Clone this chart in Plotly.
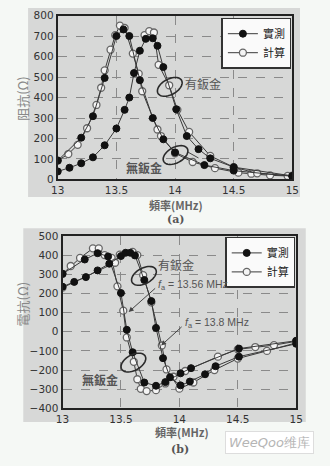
import numpy as np
import plotly.graph_objects as go

W, H = 330, 466

# ---------------- data (a) impedance ----------------
xa_no_meas = [13.0, 13.2, 13.3, 13.4, 13.5, 13.56, 13.61, 13.7, 13.81, 13.9, 14.0, 14.25, 14.5, 15.0]
ya_no_meas = [92, 204, 309, 496, 701, 733, 701, 485, 300, 196, 132, 70, 43, 15]
xa_no_calc = [13.0, 13.09, 13.17, 13.25, 13.33, 13.37, 13.4, 13.45, 13.49, 13.53, 13.57, 13.64, 13.69,
              13.72, 13.85, 13.88, 14.0, 14.15, 14.34, 14.54, 14.65, 14.81, 14.96]
ya_no_calc = [92, 124, 169, 250, 364, 448, 533, 634, 705, 752, 740, 615, 517,
              431, 244, 212, 128, 85, 55, 33, 28, 20, 17]
xa_yes_meas = [13.0, 13.1, 13.2, 13.3, 13.4, 13.5, 13.57, 13.61, 13.65, 13.7, 13.75, 13.81, 13.85, 13.9,
               14.01, 14.1, 14.2, 14.3, 14.5, 15.0]
ya_yes_meas = [39, 57, 79, 108, 167, 249, 340, 400, 520, 629, 687, 690, 653, 549,
               343, 212, 148, 103, 60, 17]
xa_yes_calc = [13.74, 13.78, 13.82, 13.86, 13.95, 14.02, 14.12, 14.3, 14.5, 14.7, 15.0]
ya_yes_calc = [705, 725, 718, 560, 460, 340, 232, 115, 60, 30, 18]

# ---------------- data (b) reactance ----------------
xb_no_meas = [13.0, 13.19, 13.3, 13.39, 13.5, 13.55, 13.6, 13.7, 13.8, 13.88, 14.01, 14.1, 14.51, 15.0]
yb_no_meas = [302, 377, 410, 393, 202, 10, -107, -265, -282, -263, -217, -190, -88, -47]
xb_no_calc = [13.0, 13.07, 13.15, 13.26, 13.31, 13.36, 13.42, 13.47, 13.52, 13.55, 13.61, 13.64, 13.67,
              13.72, 13.8, 13.88, 13.95, 14.05, 14.33, 14.5, 14.65, 14.81, 15.0]
yb_no_calc = [302, 343, 385, 435, 435, 400, 385, 237, 110, -30, -157, -248, -298,
              -310, -305, -270, -235, -205, -130, -92, -80, -70, -50]
xb_yes_meas = [13.0, 13.1, 13.2, 13.3, 13.4, 13.5, 13.54, 13.58, 13.62, 13.7, 13.76, 13.8, 13.86, 13.92,
               14.01, 14.09, 14.22, 14.31, 14.51, 15.0]
yb_yes_meas = [235, 260, 285, 320, 355, 395, 412, 412, 398, 270, 160, 20, -138, -238,
               -280, -260, -222, -180, -130, -63]
xb_yes_calc = [13.0, 13.45, 13.49, 13.6, 13.64, 13.69, 13.76, 13.85, 13.89, 14.0, 14.12, 14.3, 14.5, 14.75, 15.0]
yb_yes_calc = [230, 360, 402, 417, 400, 295, 153, -72, -197, -297, -265, -200, -140, -100, -58]

legend_meas = "實測"
legend_calc = "計算"

# ---------------- helpers ----------------
def pxx(p):
    return p / W

def pxy(p):
    return 1 - p / H

LINE = "#3a3a3a"
CJK = "Noto Sans CJK TC"

fig = go.Figure()

def add_series(x, y, xa, ya, filled, name, legend, show):
    if filled:
        marker = dict(symbol="circle", size=7, color="#111111", line=dict(color="#111111", width=1))
    else:
        marker = dict(symbol="circle", size=7, color="#f4f4f4", line=dict(color="#666666", width=1.3))
    fig.add_trace(go.Scatter(
        x=x, y=y, xaxis=xa, yaxis=ya, mode="lines+markers", name=name,
        line=dict(color=LINE, width=1), marker=marker,
        showlegend=show, legend=legend))

# (a)
add_series(xa_no_calc, ya_no_calc, "x", "y", False, legend_calc, "legend", False)
add_series(xa_yes_calc, ya_yes_calc, "x", "y", False, legend_calc, "legend", False)
add_series(xa_no_meas, ya_no_meas, "x", "y", True, legend_meas, "legend", True)
add_series(xa_yes_meas, ya_yes_meas, "x", "y", True, legend_meas, "legend", False)
add_series([None], [None], "x", "y", False, legend_calc, "legend", True)
# (b)
add_series(xb_no_calc, yb_no_calc, "x2", "y2", False, legend_calc, "legend2", False)
add_series(xb_yes_calc, yb_yes_calc, "x2", "y2", False, legend_calc, "legend2", False)
add_series(xb_no_meas, yb_no_meas, "x2", "y2", True, legend_meas, "legend2", True)
add_series(xb_yes_meas, yb_yes_meas, "x2", "y2", True, legend_meas, "legend2", False)
add_series([None], [None], "x2", "y2", False, legend_calc, "legend2", True)

tickfont = dict(family="DejaVu Sans", size=10.5, color="#333333")
axis_common = dict(showline=True, linecolor="#222222", linewidth=2, mirror=True,
                   showgrid=True, gridcolor="#8a8a8a", griddash="dash", gridwidth=1,
                   zeroline=False, ticks="", tickfont=tickfont)

fig.update_layout(
    width=W, height=H, margin=dict(l=0, r=0, t=0, b=0),
    paper_bgcolor="#f5f8f5", plot_bgcolor="#f6f8f6",
    xaxis=dict(domain=[pxx(53), pxx(298)], range=[13, 15], anchor="y",
               tickvals=[13, 13.5, 14, 14.5, 15], ticktext=["13", "13.5", "14", "14.5", "15"], **axis_common),
    yaxis=dict(domain=[pxy(178), pxy(10)], range=[0, 800], anchor="x", dtick=100, **axis_common),
    xaxis2=dict(domain=[pxx(58), pxx(302)], range=[13, 15], anchor="y2",
                tickvals=[13, 13.5, 14, 14.5, 15], ticktext=["13", "13.5", "14", "14.5", "15"], **axis_common),
    yaxis2=dict(domain=[pxy(413), pxy(236)], range=[-400, 500], anchor="x2", dtick=100,
                tickvals=[-400, -300, -200, -100, 0, 100, 200, 300, 400, 500],
                ticktext=["\u2212400", "\u2212300", "\u2212200", "\u2212100", "0", "100", "200", "300", "400", "500"],
                **axis_common),
    legend=dict(x=pxx(297), y=pxy(12), xanchor="right", yanchor="top", bgcolor="#fafafa",
                bordercolor="#333333", borderwidth=1.5, font=dict(family=CJK, size=11, color="#222"),
                itemwidth=30, tracegroupgap=0),
    legend2=dict(x=pxx(301), y=pxy(237), xanchor="right", yanchor="top", bgcolor="#fafafa",
                 bordercolor="#333333", borderwidth=1.5, font=dict(family=CJK, size=11, color="#222"),
                 itemwidth=30, tracegroupgap=0),
    showlegend=True,
)

shapes = []
shapes.append(dict(type="rect", xref="paper", yref="paper", layer="below",
                   x0=pxx(22), x1=pxx(306), y0=pxy(196), y1=pxy(2),
                   fillcolor="#d7d8d7", line=dict(width=0)))
shapes.append(dict(type="rect", xref="paper", yref="paper", layer="below",
                   x0=pxx(17), x1=pxx(312), y0=pxy(427), y1=pxy(228),
                   fillcolor="#d7d8d7", line=dict(width=0)))

def ellipse(cx, cy, rx, ry, ang):
    t = np.linspace(0, 2 * np.pi, 48)
    a = np.deg2rad(ang)
    xs = cx + rx * np.cos(t) * np.cos(a) - ry * np.sin(t) * np.sin(a)
    ys = cy + rx * np.cos(t) * np.sin(a) + ry * np.sin(t) * np.cos(a)
    pts = [f"{pxx(x):.5f},{pxy(y):.5f}" for x, y in zip(xs, ys)]
    return "M" + " L".join(pts) + " Z"

for (cx, cy) in [(170, 83), (176, 153), (143, 277), (132, 366)]:
    shapes.append(dict(type="path", xref="paper", yref="paper", path=ellipse(cx, cy, 14, 8, -28),
                       line=dict(color="#2a2a2a", width=1.6)))
shapes.append(dict(type="line", xref="paper", yref="paper",
                   x0=pxx(189), y0=pxy(150), x1=pxx(200), y1=pxy(156),
                   line=dict(color="#444", width=1)))
fig.update_layout(shapes=shapes)

ann = []

def txt(px, py, text, font, **kw):
    d = dict(xref="paper", yref="paper", x=pxx(px), y=pxy(py), text=text, showarrow=False,
             font=font, xanchor="center", yanchor="middle")
    d.update(kw)
    ann.append(d)

lab = dict(family=CJK, size=12, color="#555555")
txt(205, 80, "有鈑金", lab)
txt(143, 166, "<b>無鈑金</b>", lab)
txt(177, 265, "有鈑金", lab)
txt(97, 383, "<b>無鈑金</b>", lab)
fa = dict(family="Liberation Sans", size=10.5, color="#555555")
txt(156, 286, "<i>f</i><sub>a</sub> = 13.56 MHz", fa, xanchor="left")
txt(184, 325, "<i>f</i><sub>a</sub> = 13.8 MHz", fa, xanchor="left")
ann.append(dict(xref="x2", yref="y2", x=13.566, y=103, ax=28, ay=-25, text="", showarrow=True,
                arrowhead=2, arrowsize=1, arrowwidth=1, arrowcolor="#444"))
ann.append(dict(xref="x2", yref="y2", x=13.844, y=-72, ax=22, ay=-20, text="", showarrow=True,
                arrowhead=2, arrowsize=1, arrowwidth=1, arrowcolor="#444"))
tit = dict(family=CJK, size=13, color="#888888")
txt(16, 95, "阻抗(Ω)", tit, textangle=-90)
txt(16, 306, "電抗(Ω)", tit, textangle=-90)
xt = dict(family=CJK, size=11, color="#666666")
txt(176, 204, "<b>頻率(MHz)</b>", xt)
txt(183, 437, "<b>頻率(MHz)</b>", xt)
ser = dict(family="DejaVu Serif", size=11, color="#555")
txt(176, 219, "<b>(a)</b>", ser)
txt(181, 455, "<b>(b)</b>", ser)
txt(274, 448, "<i>WeeQoo</i>维库", dict(family="DejaVu Sans", size=13, color="#b5b5b5"),
    bgcolor="#ffffff", bordercolor="#dddddd", borderwidth=1, borderpad=3)
fig.update_layout(annotations=ann)

fig.write_html("out.html")
